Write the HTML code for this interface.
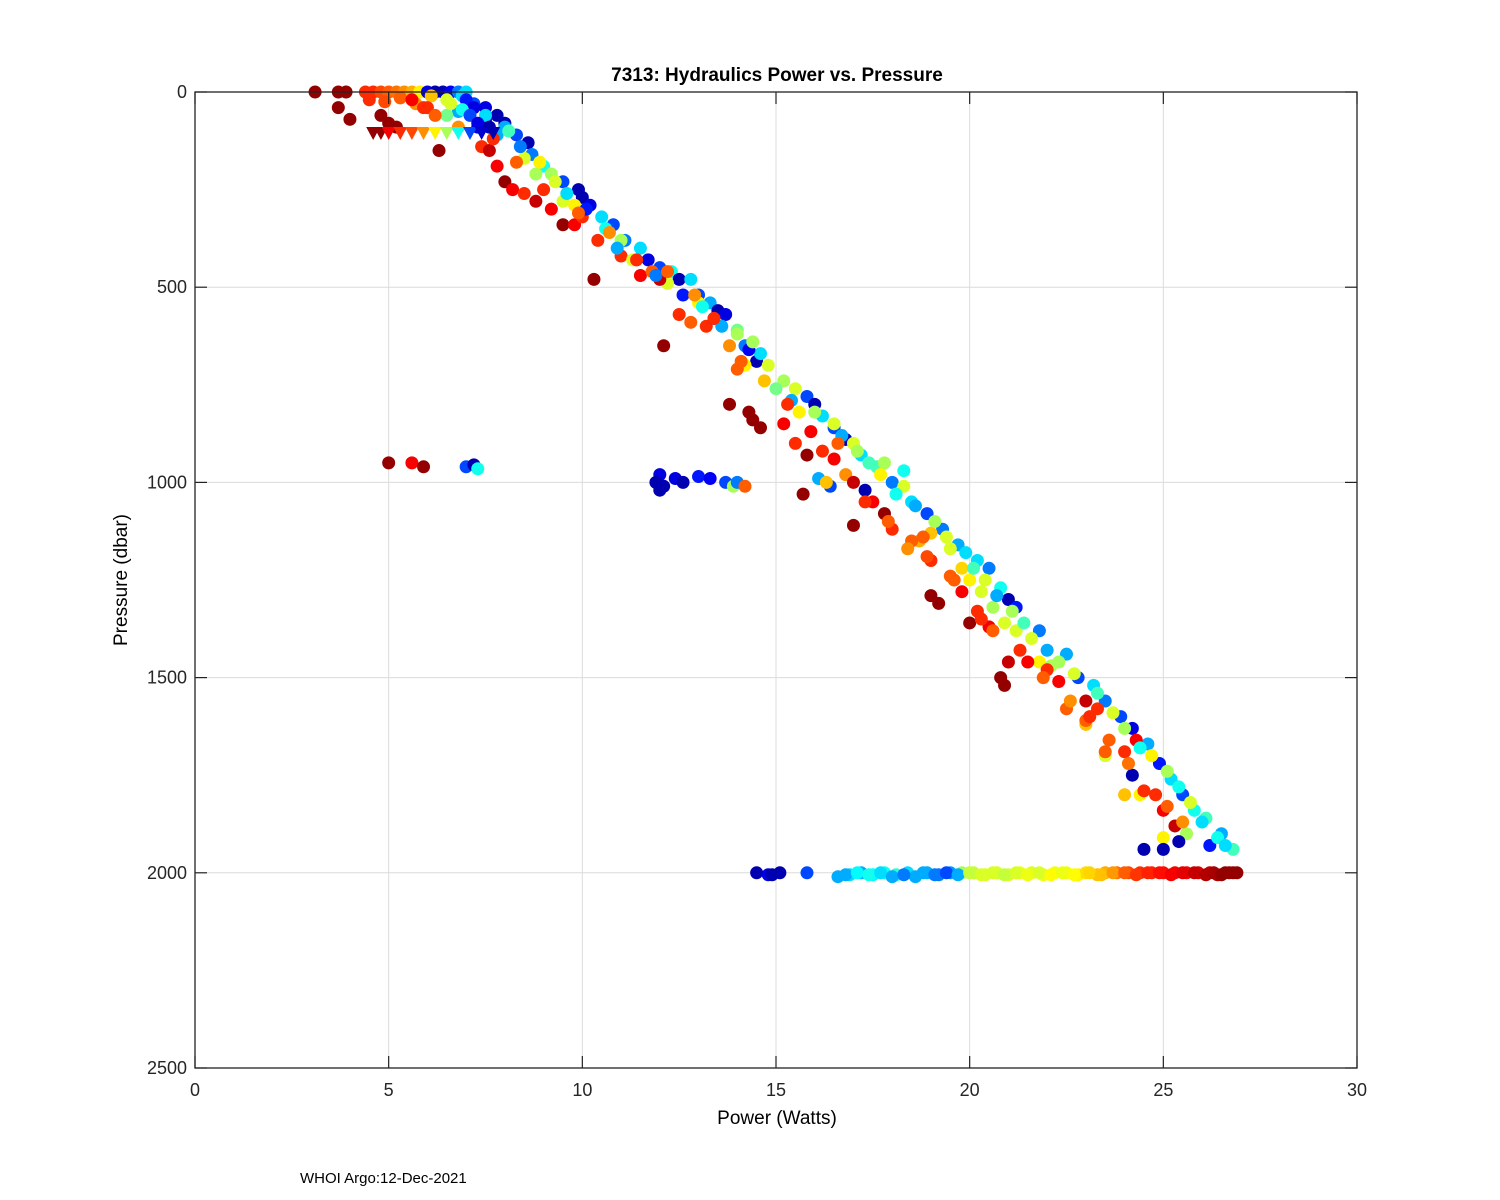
<!DOCTYPE html>
<html><head><meta charset="utf-8"><style>
body{margin:0;background:#fff;}
svg{display:block;font-family:"Liberation Sans",sans-serif;}
</style></head><body>
<svg id="chart" width="1500" height="1200">
<rect x="0" y="0" width="1500" height="1200" fill="#fff"/>
<g id="grid"></g>
<g id="marks"></g>
<g id="axes"></g>
<text x="777" y="81" text-anchor="middle" font-size="19" font-weight="bold">7313: Hydraulics Power vs. Pressure</text>
<text x="777" y="1124" text-anchor="middle" font-size="19">Power (Watts)</text>
<text x="127" y="580" text-anchor="middle" font-size="19" transform="rotate(-90 127 580)">Pressure (dbar)</text>
<text x="300" y="1183" font-size="15">WHOI Argo:12-Dec-2021</text>
</svg>
<script>
const xTicks=[0,5,10,15,20,25,30];
const yTicks=[0,500,1000,1500,2000,2500];
// circle points: power, pressure, colour value (0..1 jet)
const power=[3.1,3.7,3.9,4.4,4.6,4.8,5.0,5.2,5.4,5.6,5.8,6.0,6.2,6.4,6.6,6.8,7.0,4.5,4.9,5.3,5.7,6.1,6.5,6.9,7.2,7.5,3.7,4.0,4.8,5.0,5.2,6.3,7.4,7.6,7.0,7.2,7.5,6.8,6.5,6.0,5.6,7.3,7.8,8.0,
7.5,8.0,8.3,8.6,8.7,9.0,9.2,9.5,9.9,10.0,10.2,10.5,10.8,11.1,11.5,11.7,12.0,12.3,12.5,12.8,13.0,13.3,13.5,13.7,14.0,14.2,14.5,14.6,14.3,15.2,15.8,16.0,16.2,16.5,16.8,17.2,17.6,18.3,18.0,18.5,18.9,19.3,19.7,20.2,20.5,20.8,21.0,21.2,21.8,22.5,22.8,23.2,23.5,23.9,24.2,24.6,24.9,25.2,25.5,25.8,26.1,26.5,26.8,26.2,16.1,16.4,17.3,
8.5,8.8,9.5,9.8,11.0,12.2,13.0,14.0,14.2,14.7,15.5,16.0,16.5,17.0,17.8,18.3,19.0,19.5,20.0,20.3,20.6,21.2,21.8,22.1,23.0,23.5,24.0,24.4,25.0,25.6,19.8,20.9,16.3,18.7,
7.8,8.0,8.2,8.5,8.8,9.2,9.5,9.8,10.0,10.4,10.3,11.0,11.5,12.0,11.8,12.5,12.8,13.2,13.8,14.0,12.1,13.8,14.3,14.6,14.4,15.2,15.5,15.8,16.2,16.5,16.8,15.7,17.0,17.5,17.0,17.8,18.0,18.5,19.0,19.5,19.0,19.2,20.0,20.5,20.3,21.0,21.5,22.0,22.3,20.8,20.9,22.5,23.0,23.3,23.0,23.5,24.0,24.3,24.8,25.0,25.3,24.2,24.5,25.0,25.4,18.8,19.8,
5.0,5.6,5.9,7.0,7.2,7.3,12.0,12.1,12.4,12.6,11.9,13.0,13.3,13.7,13.9,14.0,14.2,12.0,
14.5,14.8,15.1,15.8,16.6,16.9,17.2,17.5,17.8,18.1,18.4,18.6,18.9,19.2,19.5,19.8,20.1,20.4,20.7,21.0,21.3,21.6,21.9,22.2,22.5,22.8,23.0,23.3,23.5,23.8,24.1,24.4,24.7,25.0,25.3,25.6,25.9,26.2,26.4,26.6,26.8,
14.9,16.8,17.1,17.4,17.7,18.0,18.3,18.8,19.1,19.4,19.7,20.0,20.3,20.6,20.9,21.2,21.5,21.8,22.1,22.4,22.7,23.1,23.4,23.7,24.0,24.3,24.6,24.9,25.2,25.5,25.8,26.1,26.3,26.5,26.7,26.9,
6.6,6.9,7.1,7.3,7.6,7.8,8.1,8.4,8.9,9.3,9.6,10.1,10.6,10.9,11.3,11.9,12.6,13.1,13.4,13.6,14.4,14.8,15.0,15.4,15.6,16.7,17.1,17.4,17.7,18.1,18.6,19.1,19.4,19.9,20.1,20.4,20.7,21.1,21.4,21.6,22.0,22.3,22.7,23.3,23.7,24.0,24.4,24.7,25.1,25.4,25.7,26.0,26.4,26.6,
5.9,6.2,6.8,7.7,8.3,9.0,9.9,10.7,11.4,12.2,12.9,13.4,14.1,15.3,15.9,16.6,17.3,17.9,18.4,18.9,19.6,20.2,20.6,21.3,21.9,22.6,23.1,23.6,24.1,24.5,25.1,25.5];
const pressure=[0,0,0,0,0,0,0,0,0,0,0,0,0,0,0,0,0,20,25,15,30,10,20,10,30,40,40,70,60,80,90,150,140,150,20,40,70,50,60,40,20,90,60,80,
60,90,110,130,160,190,210,230,250,270,290,320,340,380,400,430,450,460,480,480,520,540,560,570,610,650,690,670,660,740,780,800,830,860,890,930,960,970,1000,1050,1080,1120,1160,1200,1220,1270,1300,1320,1380,1440,1500,1520,1560,1600,1630,1670,1720,1760,1800,1840,1860,1900,1940,1930,990,1010,1020,
170,210,280,290,380,490,540,620,700,740,760,820,850,900,950,1010,1130,1170,1250,1280,1320,1380,1460,1470,1620,1700,1800,1800,1910,1900,1220,1360,1000,1150,
190,230,250,260,280,300,340,340,320,380,480,420,470,480,460,570,590,600,650,710,650,800,820,860,840,850,900,930,920,940,980,1030,1000,1050,1110,1080,1120,1150,1200,1240,1290,1310,1360,1370,1350,1460,1460,1480,1510,1500,1520,1580,1560,1580,1610,1690,1690,1660,1800,1840,1880,1750,1940,1940,1920,1140,1280,
950,950,960,960,955,965,980,1010,990,1000,1000,985,990,1000,1010,1000,1010,1020,
2000,2005,2000,2000,2010,2005,2000,2005,2000,2005,2000,2010,2000,2005,2000,2000,2000,2005,2000,2005,2000,2000,2005,2000,2000,2005,2000,2005,2000,2000,2000,2000,2000,2000,2000,2000,2000,2000,2005,2000,2000,
2005,2005,2000,2005,2000,2010,2005,2000,2005,2000,2005,2000,2005,2000,2005,2000,2005,2000,2005,2000,2005,2000,2005,2000,2000,2005,2000,2000,2005,2000,2000,2005,2000,2005,2000,2000,
30,45,60,80,90,110,100,140,180,230,260,300,350,400,430,470,520,550,580,600,640,700,760,790,820,880,920,950,980,1030,1060,1100,1140,1180,1220,1250,1290,1330,1360,1400,1430,1460,1490,1540,1590,1630,1680,1700,1740,1780,1820,1870,1910,1930,
40,60,90,120,180,250,310,360,430,460,520,580,690,800,870,900,1050,1100,1170,1190,1250,1330,1380,1430,1500,1560,1600,1660,1720,1790,1830,1870];
const colorVal=[1,1,1,0.85,0.85,0.82,0.8,0.78,0.75,0.72,0.65,0.1,0.05,0.05,0.12,0.25,0.35,0.85,0.82,0.8,0.75,0.7,0.6,0.35,0.2,0.1,1,1,1,1,1,1,0.85,0.95,0.15,0.1,0.05,0.3,0.5,0.85,0.9,0.1,0.05,0.05,
0.35,0.3,0.2,0.05,0.25,0.4,0.55,0.2,0.05,0.05,0.1,0.35,0.2,0.25,0.35,0.1,0.2,0.4,0.05,0.35,0.2,0.3,0.05,0.1,0.5,0.25,0.05,0.35,0.12,0.55,0.2,0.05,0.35,0.2,0.05,0.35,0.45,0.4,0.25,0.35,0.2,0.25,0.3,0.35,0.25,0.4,0.05,0.15,0.25,0.3,0.2,0.35,0.25,0.2,0.1,0.3,0.15,0.35,0.2,0.4,0.45,0.3,0.45,0.15,0.3,0.2,0.05,
0.6,0.55,0.6,0.65,0.55,0.6,0.65,0.55,0.65,0.7,0.6,0.55,0.6,0.6,0.55,0.6,0.7,0.6,0.65,0.6,0.55,0.6,0.65,0.55,0.7,0.6,0.7,0.65,0.65,0.55,0.68,0.6,0.7,0.72,
0.9,1,0.9,0.85,0.95,0.9,1,0.9,0.85,0.85,1,0.85,0.9,0.95,0.8,0.85,0.8,0.85,0.75,0.8,1,1,1,1,1,0.9,0.85,1,0.85,0.9,0.75,1,0.95,0.9,1,1,0.85,0.8,0.85,0.8,1,1,1,0.9,0.85,0.95,0.9,0.85,0.9,1,1,0.8,0.95,0.85,0.8,0.8,0.85,0.9,0.85,0.9,0.95,0.05,0.05,0.05,0.05,0.8,0.9,
1,0.9,1,0.2,0.05,0.4,0.1,0.05,0.1,0.05,0.05,0.15,0.12,0.2,0.55,0.25,0.8,0.05,
0.05,0.1,0.05,0.2,0.3,0.35,0.3,0.38,0.4,0.42,0.35,0.3,0.3,0.25,0.28,0.55,0.58,0.6,0.6,0.6,0.62,0.6,0.62,0.62,0.62,0.65,0.67,0.7,0.72,0.78,0.82,0.85,0.86,0.88,0.9,0.9,0.93,0.95,0.97,1,1,
0.05,0.3,0.38,0.4,0.35,0.3,0.25,0.3,0.25,0.2,0.3,0.58,0.6,0.6,0.58,0.6,0.62,0.6,0.64,0.62,0.64,0.68,0.7,0.74,0.8,0.84,0.86,0.88,0.9,0.92,0.95,0.97,0.98,1,1,1,
0.6,0.4,0.2,0.1,0.05,0.3,0.45,0.25,0.65,0.6,0.35,0.15,0.4,0.3,0.6,0.25,0.15,0.4,0.1,0.3,0.55,0.6,0.5,0.3,0.65,0.3,0.55,0.45,0.65,0.4,0.3,0.55,0.6,0.35,0.45,0.6,0.3,0.55,0.45,0.6,0.3,0.55,0.6,0.45,0.6,0.55,0.4,0.65,0.55,0.4,0.6,0.35,0.4,0.35,
0.85,0.8,0.75,0.85,0.8,0.85,0.8,0.75,0.85,0.8,0.75,0.85,0.8,0.85,0.9,0.8,0.85,0.8,0.75,0.82,0.8,0.85,0.8,0.85,0.8,0.75,0.85,0.8,0.78,0.85,0.8,0.75];
// triangle markers near 100 dbar
const triPower=[4.6,4.8,5.0,5.3,5.6,5.9,6.2,6.5,6.8,7.1,7.4,7.7];
const triPressure=[105,105,105,105,105,105,105,105,105,105,105,105];
const triColor=[1,1,0.9,0.85,0.82,0.75,0.65,0.55,0.4,0.2,0.08,0.05];

const X0=195,X1=1357,Y0=92,Y1=1068;
const xs=v=>X0+(v-0)/(30-0)*(X1-X0);
const ys=v=>Y0+(v-0)/(2500-0)*(Y1-Y0);
function jet(t){
  const c=x=>Math.round(255*Math.max(0,Math.min(1,x)));
  const v=t*0.98;
  return `rgb(${c(1.5-Math.abs(4*v-3))},${c(1.5-Math.abs(4*v-2))},${c(1.5-Math.abs(4*v-1))})`;
}
const NS="http://www.w3.org/2000/svg";
function mk(tag,attrs,parent){const e=document.createElementNS(NS,tag);for(const k in attrs)e.setAttribute(k,attrs[k]);parent.appendChild(e);return e;}
const grid=document.getElementById('grid'),axes=document.getElementById('axes'),marks=document.getElementById('marks');
xTicks.forEach(t=>{
  const l=mk('line',{x1:xs(t),x2:xs(t),y1:Y0,y2:Y1,stroke:'#dcdcdc','stroke-width':1},grid);
  
  
  const tb=mk('line',{x1:xs(t),x2:xs(t),y1:Y1,y2:Y1-12,stroke:'#222','stroke-width':1.2},axes);
  
  
  const tt=mk('line',{x1:xs(t),x2:xs(t),y1:Y0,y2:Y0+12,stroke:'#222','stroke-width':1.2},axes);
  
  
  const lb=mk('text',{x:xs(t),y:Y1+28,'text-anchor':'middle','font-size':18,fill:'#262626'},axes);
  lb.textContent=t;
  
  
});
yTicks.forEach(t=>{
  const l=mk('line',{x1:X0,x2:X1,y1:ys(t),y2:ys(t),stroke:'#dcdcdc','stroke-width':1},grid);
  
  
  const tl=mk('line',{x1:X0,x2:X0+12,y1:ys(t),y2:ys(t),stroke:'#222','stroke-width':1.2},axes);
  
  
  const tr=mk('line',{x1:X1,x2:X1-12,y1:ys(t),y2:ys(t),stroke:'#222','stroke-width':1.2},axes);
  
  
  const lb=mk('text',{x:X0-8,y:ys(t)+6,'text-anchor':'end','font-size':18,fill:'#262626'},axes);
  lb.textContent=t;
  
  
});
const box=mk('rect',{x:X0,y:Y0,width:X1-X0,height:Y1-Y0,fill:'none',stroke:'#222','stroke-width':1.3},axes);


for(let i=0;i<power.length;i++){
  const c=mk('circle',{cx:xs(power[i]),cy:ys(pressure[i]),r:6.5,fill:jet(colorVal[i])},marks);
  
  
}
for(let i=0;i<triPower.length;i++){
  const x=xs(triPower[i]),y=ys(triPressure[i]);
  const p=mk('polygon',{points:`${x-7},${y-6} ${x+7},${y-6} ${x},${y+7}`,fill:jet(triColor[i])},marks);
  
  
}
</script>
</body></html>
